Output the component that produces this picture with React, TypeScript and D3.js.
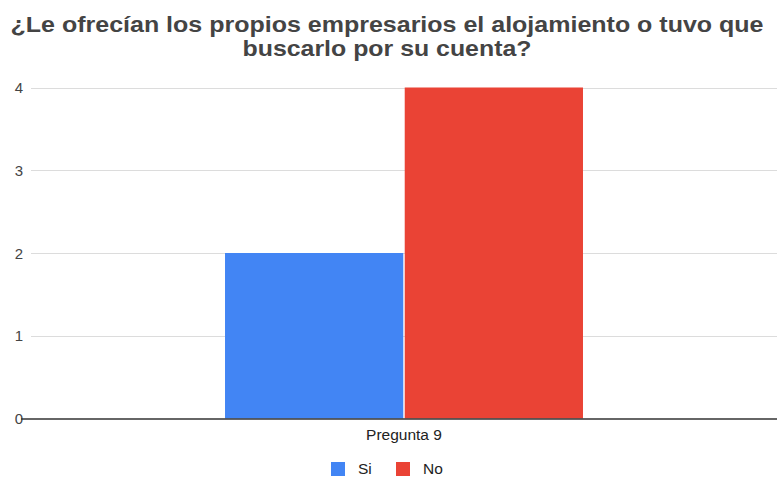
import React from "react";
import * as d3 from "d3";

const categories = ["Pregunta 9"];
const seriesNames = ["Si", "No"];
const seriesColors = ["#4285f4", "#ea4335"];
const siValues = [2];
const noValues = [4];
const yTicks = [0, 1, 2, 3, 4];
const titleLines = [
  "¿Le ofrecían los propios empresarios el alojamiento o tuvo que",
  "buscarlo por su cuenta?",
];
const titleWidths = [753, 289];

const W = 777;
const H = 477;
const M = { left: 31, right: 0 };

export default function App() {
  const x = d3.scaleBand().domain(categories).range([M.left, W - M.right]).paddingInner(0).paddingOuter(0.542);
  const y = d3.scaleLinear().domain([0, 4]).range([418.5, 87.5]);
  const inner = d3.scaleBand().domain(seriesNames).range([0, x.bandwidth()]).paddingInner(0.008);
  const values = [siValues, noValues];
  const font = "Arial, 'Liberation Sans', sans-serif";
  const legendX = [331, 396];
  return (
    <svg width={W} height={H} style={{ position: "absolute", left: 0, top: 0, background: "#fff" }}>
      <rect width={W} height={H} fill="#fff" />
      {titleLines.map((t, i) => (
        <text
          key={i}
          x={387 - titleWidths[i] / 2}
          y={32 + i * 24}
          textLength={titleWidths[i]}
          lengthAdjust="spacingAndGlyphs"
          fontFamily={font}
          fontWeight="bold"
          fontSize={22.5}
          fill="#444"
        >
          {t}
        </text>
      ))}
      {yTicks.filter((t) => t > 0).map((t) => (
        <line key={t} x1={M.left} x2={W} y1={Math.round(y(t)) + 0.5} y2={Math.round(y(t)) + 0.5} stroke="#dcdcdc" strokeWidth={1.2} />
      ))}
      {yTicks.map((t) => (
        <text key={t} x={23} y={y(t) + 5.5} textAnchor="end" fontFamily={font} fontSize={15} fill="#444">
          {t}
        </text>
      ))}
      {categories.map((c, ci) =>
        seriesNames.map((s, si) => (
          <rect
            key={c + s}
            x={(x(c) ?? 0) + (inner(s) ?? 0)}
            y={y(values[si][ci])}
            width={inner.bandwidth()}
            height={y(0) - y(values[si][ci])}
            fill={seriesColors[si]}
          />
        ))
      )}
      <line x1={21} x2={W} y1={419} y2={419} stroke="#333" strokeWidth={1.5} />
      {categories.map((c) => (
        <text key={c} x={(x(c) ?? 0) + x.bandwidth() / 2} y={440} textAnchor="middle" fontFamily={font} fontSize={15.5} fill="#222">
          {c}
        </text>
      ))}
      {seriesNames.map((s, i) => {
        const lx = legendX[i];
        return (
          <g key={s}>
            <rect x={lx} y={462} width={14} height={14} fill={seriesColors[i]} />
            <text x={lx + 27} y={474} fontFamily={font} fontSize={15.5} fill="#222">
              {s}
            </text>
          </g>
        );
      })}
    </svg>
  );
}
